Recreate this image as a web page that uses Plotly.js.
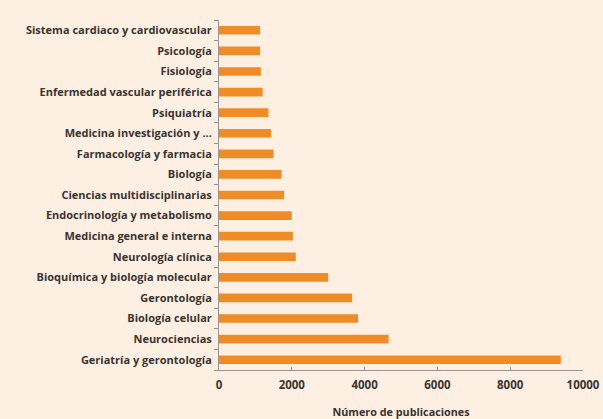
<!DOCTYPE html>
<html>
<head>
<meta charset="utf-8">
<script src="https://cdn.plot.ly/plotly-3.0.1.min.js"></script>
<style>
  html, body { margin: 0; padding: 0; background: #fdf0e3; }
  #chart { width: 603px; height: 419px; }
</style>
</head>
<body>
<div id="chart"></div>
<script>
// Áreas temáticas, de abajo hacia arriba
const areas = [
  "Geriatría y gerontología",
  "Neurociencias",
  "Biología celular",
  "Gerontología",
  "Bioquímica y biología molecular",
  "Neurología clínica",
  "Medicina general e interna",
  "Endocrinología y metabolismo",
  "Ciencias multidisciplinarias",
  "Biología",
  "Farmacología y farmacia",
  "Medicina investigación y ...",
  "Psiquiatría",
  "Enfermedad vascular periférica",
  "Fisiología",
  "Psicología",
  "Sistema cardiaco y cardiovascular"
];

// Número de publicaciones por área
const publicaciones = [
  9390, 4660, 3820, 3660, 3000, 2110, 2030, 2000,
  1790, 1720, 1500, 1430, 1360, 1200, 1150, 1130, 1130
];

const ejeX = [0, 2000, 4000, 6000, 8000, 10000];

const fuente = { family: "Open Sans, sans-serif", size: 11, color: "#3a3330", weight: 700 };

Plotly.newPlot("chart", [{
  type: "bar",
  orientation: "h",
  x: publicaciones,
  y: areas,
  marker: { color: "#ee8d28" },
  hoverinfo: "x+y"
}], {
  width: 603,
  height: 419,
  margin: { l: 219, r: 20, t: 20, b: 49 },
  paper_bgcolor: "#fdf0e3",
  plot_bgcolor: "#fdf0e3",
  bargap: 0.58,
  showlegend: false,
  font: fuente,
  xaxis: {
    range: [0, 10000],
    tickvals: ejeX,
    ticktext: ejeX.map(String),
    showgrid: false,
    zeroline: false,
    showline: true,
    linecolor: "#9a9390",
    linewidth: 1,
    ticks: "inside",
    ticklen: 3,
    tickcolor: "#9a9390",
    ticklabelstandoff: 4,
    tickfont: { family: "Open Sans, sans-serif", size: 11.5, color: "#3a3330", weight: 700 },
    title: {
      text: "Número de publicaciones",
      font: { family: "Open Sans, sans-serif", size: 10.8, color: "#3a3330", weight: 700 },
      standoff: 18
    },
    automargin: false
  },
  yaxis: {
    type: "category",
    categoryorder: "array",
    categoryarray: areas,
    showgrid: false,
    zeroline: false,
    showline: true,
    linecolor: "#9a9390",
    linewidth: 1,
    ticks: "outside",
    tickson: "boundaries",
    ticklen: 4,
    tickcolor: "#9a9390",
    ticklabelstandoff: 4,
    tickfont: fuente,
    automargin: false
  }
}, { displayModeBar: false, staticPlot: true });
</script>
</body>
</html>
